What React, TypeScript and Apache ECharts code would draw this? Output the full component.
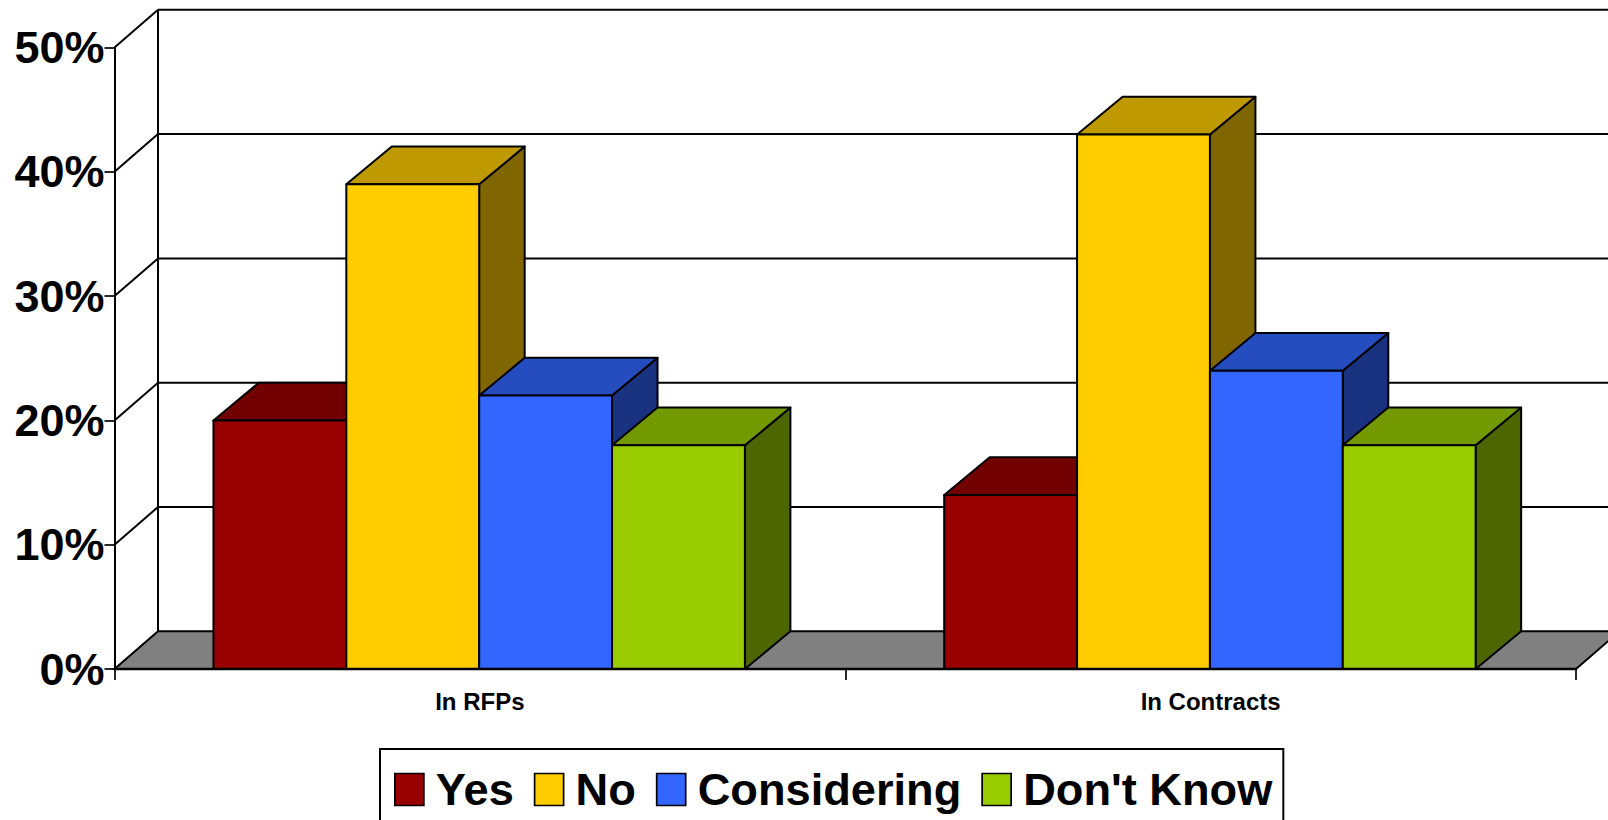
import React, { useEffect, useRef } from "react";
import * as echarts from "echarts";

const categories = ["In RFPs", "In Contracts"];
const seriesNames = ["Yes", "No", "Considering", "Don't Know"];
const yesValues = [20, 14];
const noValues = [39, 43];
const consideringValues = [22, 24];
const dontKnowValues = [18, 18];
const wallTicks = [0, 10, 20, 30, 40, 50];
const frontColors = ["#990000", "#FFCC00", "#3366FF", "#99CC00"];
const topColors = ["#730000", "#BF9900", "#264DBF", "#739900"];
const sideColors = ["#4D0000", "#806600", "#1A3380", "#4D6600"];

const DX = 43.5;
const DY = 37.7;
const BAR_DX = 45.5;
const BAR_DY = 37.7;
const STROKE = 2;
const FONT = "'Liberation Sans', Arial, sans-serif";

export default function App() {
  const ref = useRef<HTMLDivElement>(null);
  useEffect(() => {
    document.body.style.margin = "0";
    const chart = echarts.init(ref.current!, undefined, { renderer: "svg" });
    const allValues = [yesValues, noValues, consideringValues, dontKnowValues];

    const barSeries = seriesNames.map((name, s) => ({
      type: "custom",
      name,
      coordinateSystem: "cartesian2d",
      clip: false,
      silent: true,
      z: 4,
      itemStyle: { color: frontColors[s] },
      data: allValues[s].map((v, i) => [i, v]),
      encode: { x: 0, y: 1 },
      renderItem: (_p: any, api: any) => {
        const idx = api.value(0);
        const top = api.coord([idx, api.value(1)]);
        const base = api.coord([idx, 0]);
        const band = api.size([1, 0])[0];
        const bw = band / 5.5;
        const x0 = top[0] - 2 * bw + s * bw - 0.7;
        const x1 = x0 + bw;
        const yT = top[1];
        const yB = base[1];
        const lineStyle = { stroke: "#000", lineWidth: STROKE, lineJoin: "round" };
        const poly = (points: number[][], fill: string) => ({
          type: "polygon",
          shape: { points },
          style: { fill, ...lineStyle },
        });
        return {
          type: "group",
          children: [
            poly([[x1, yT], [x1 + BAR_DX, yT - BAR_DY], [x1 + BAR_DX, yB - BAR_DY], [x1, yB]], sideColors[s]),
            poly([[x0, yT], [x0 + BAR_DX, yT - BAR_DY], [x1 + BAR_DX, yT - BAR_DY], [x1, yT]], topColors[s]),
            poly([[x0, yT], [x1, yT], [x1, yB], [x0, yB]], frontColors[s]),
          ],
        };
      },
    }));

    const wallSeries = {
      type: "custom",
      name: "walls",
      coordinateSystem: "cartesian2d",
      clip: false,
      silent: true,
      z: 1,
      data: wallTicks.map((t) => [0, t]),
      encode: { y: 1 },
      renderItem: (_p: any, api: any) => {
        const t = api.value(1);
        const band = api.size([1, 0])[0];
        const center = api.coord([0, t]);
        const xL = center[0] - band / 2;
        const xR = xL + band * categories.length;
        const y = center[1];
        const style = { stroke: "#000", lineWidth: STROKE };
        const children: any[] = [];
        if (t === 0) {
          children.push({
            type: "polygon",
            shape: { points: [[xL, y], [xL + DX, y - DY], [xR + DX, y - DY], [xR, y]] },
            style: { fill: "#808080", ...style },
          });
        } else {
          children.push({ type: "line", shape: { x1: xL, y1: y, x2: xL + DX, y2: y - DY }, style });
          children.push({ type: "line", shape: { x1: xL + DX, y1: y - DY, x2: xR + DX, y2: y - DY }, style });
        }
        if (t === wallTicks[wallTicks.length - 1]) {
          const yBase = api.coord([0, 0])[1];
          children.push({ type: "line", shape: { x1: xL + DX, y1: y - DY, x2: xL + DX, y2: yBase - DY }, style });
        }
        return { type: "group", children };
      },
    };

    chart.setOption({
      animation: false,
      backgroundColor: "#fff",
      tooltip: { show: false },
      grid: { left: 114.5, right: 32, top: 47.5, bottom: 151, containLabel: false },
      xAxis: {
        type: "category",
        data: categories,
        z: 6,
        axisLine: { lineStyle: { color: "#000", width: 2.4 } },
        axisTick: { show: true, length: 11, alignWithLabel: false, lineStyle: { color: "#000", width: 1.7 } },
        axisLabel: { color: "#000", fontFamily: FONT, fontWeight: "bold", fontSize: 24, margin: 20 },
        splitLine: { show: false },
      },
      yAxis: {
        type: "value",
        min: 0,
        max: 50,
        interval: 10,
        z: 6,
        axisLine: { show: true, lineStyle: { color: "#000", width: 2 } },
        axisTick: { show: true, length: 10, lineStyle: { color: "#000", width: 1.7 } },
        axisLabel: {
          color: "#000",
          fontFamily: FONT,
          fontWeight: "bold",
          fontSize: 45,
          margin: 10,
          formatter: "{value}%",
        },
        splitLine: { show: false },
      },
      legend: {
        show: true,
        selectedMode: false,
        orient: "horizontal",
        left: 380,
        top: 749,
        padding: [18, 11, 60, 14],
        itemWidth: 29,
        itemHeight: 32,
        itemGap: 20,
        backgroundColor: "#fff",
        borderColor: "#000",
        borderWidth: 2,
        borderRadius: 0,
        textStyle: {
          color: "#000",
          fontFamily: FONT,
          fontWeight: "bold",
          fontSize: 45.2,
          padding: [0, 0, 0, 7],
        },
        data: seriesNames.map((name, s) => ({
          name,
          icon: "rect",
          itemStyle: { color: frontColors[s], borderColor: "#000", borderWidth: 1.7 },
        })),
      },
      series: [wallSeries, ...barSeries],
    });
    return () => chart.dispose();
  }, []);
  return (
    <div
      ref={ref}
      style={{ position: "fixed", left: 0, top: 0, width: 1608, height: 820, overflow: "hidden", background: "#fff" }}
    />
  );
}
